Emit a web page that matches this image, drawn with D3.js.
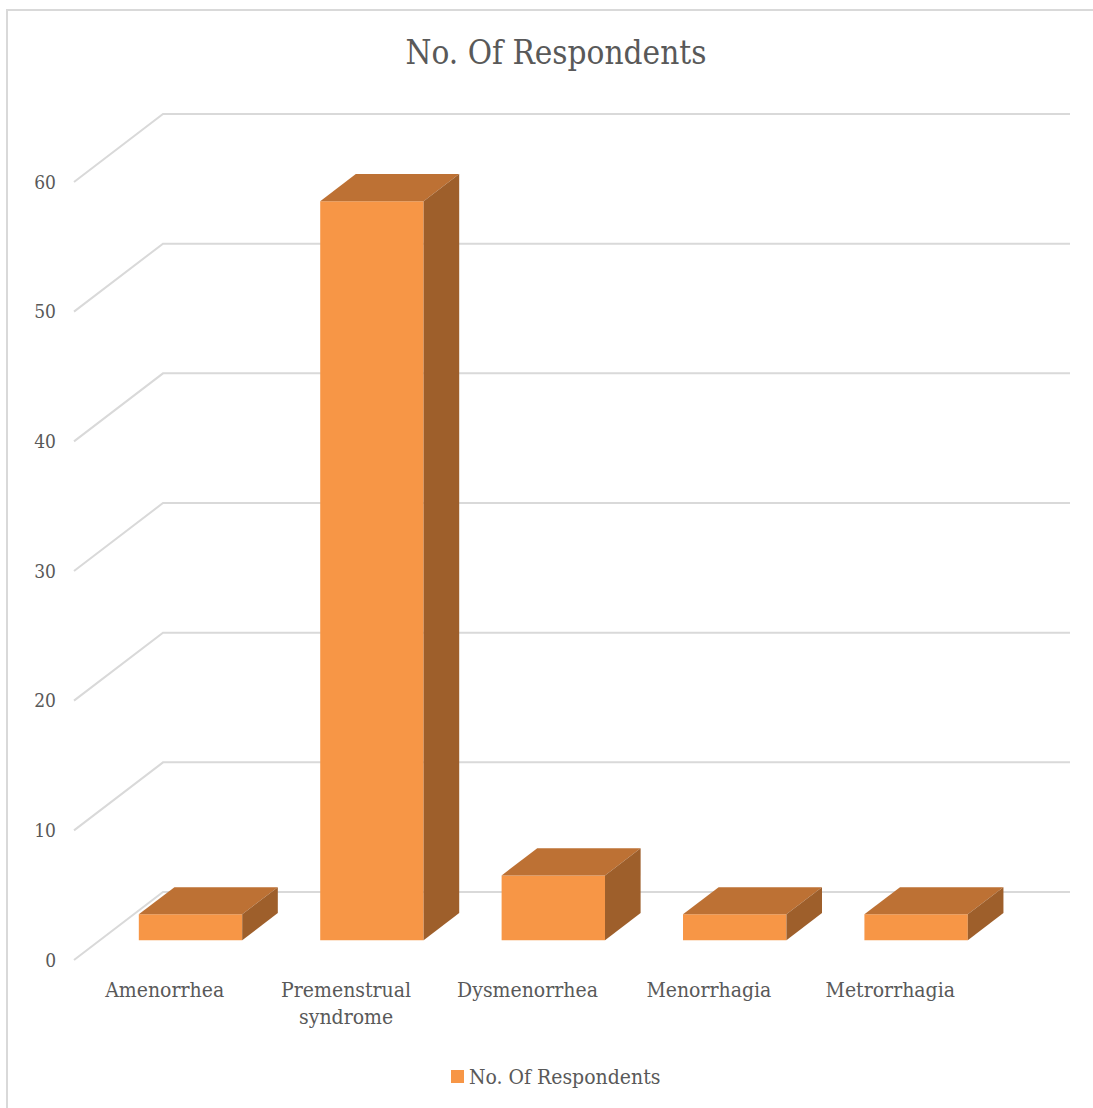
<!DOCTYPE html>
<html>
<head>
<meta charset="utf-8">
<script src="https://cdn.jsdelivr.net/npm/d3@7"></script>
<style>
  html, body { margin: 0; padding: 0; background: #fff; }
  svg { display: block; }
  text { font-family: "DejaVu Serif Condensed", "DejaVu Serif", serif; font-stretch: condensed; fill: #595959; }
</style>
</head>
<body>
<div id="chart"></div>
<script>
// Chart data
const categories = ["Amenorrhea", "Premenstrual syndrome", "Dysmenorrhea", "Menorrhagia", "Metrorrhagia"];
const categoryLines = [["Amenorrhea"], ["Premenstrual", "syndrome"], ["Dysmenorrhea"], ["Menorrhagia"], ["Metrorrhagia"]];
const respondents = [2, 57, 5, 2, 2];
const yTicks = [0, 10, 20, 30, 40, 50, 60];
const seriesName = "No. Of Respondents";
const chartTitle = "No. Of Respondents";

const width = 1093, height = 1108;
const svg = d3.select("#chart").append("svg")
  .attr("width", width).attr("height", height);

// Outer chart border (top and left edges visible)
svg.append("path")
  .attr("d", `M7,${height} L7,10 L${width},10`)
  .attr("fill", "none").attr("stroke", "#d9d9d9").attr("stroke-width", 2);

// Oblique 3D projection: front floor origin plus a depth vector
const originX = 74, originY = 960;
const depthX = 89, depthY = 68;
const plotW = 907;

const x = d3.scaleBand().domain(categories).range([0, plotW]).paddingInner(0).paddingOuter(0);
const y = d3.scaleLinear().domain([0, 60]).range([0, 778]);

function proj(px, v, d) {
  return [originX + px + d * depthX, originY - y(v) - d * depthY];
}

// Gridlines: side wall diagonal + back wall horizontal
const grid = svg.append("g");
yTicks.forEach(t => {
  const a = proj(0, t, 0), b = proj(0, t, 1), c = proj(plotW, t, 1);
  grid.append("path")
    .attr("d", `M${a[0]},${a[1]} L${b[0]},${b[1]} L${c[0]},${c[1]}`)
    .attr("fill", "none").attr("stroke", "#d9d9d9").attr("stroke-width", 2);
});

// Y-axis labels
svg.append("g").selectAll("text").data(yTicks).join("text")
  .attr("x", 56)
  .attr("y", d => proj(0, d, 0)[1])
  .attr("dy", "0.35em")
  .attr("text-anchor", "end")
  .attr("font-size", 19)
  .text(d => d);

// Bars as 3D boxes
const dFront = 0.29, dBack = 0.69;
const barFrac = 0.57;
const bars = svg.append("g");
categories.forEach((c, i) => {
  const v = respondents[i];
  const bw = x.bandwidth() * barFrac;
  const left = x(c) + (x.bandwidth() - bw) / 2;
  const right = left + bw;
  const fbl = proj(left, 0, dFront), fbr = proj(right, 0, dFront);
  const ftl = proj(left, v, dFront), ftr = proj(right, v, dFront);
  const btl = proj(left, v, dBack), btr = proj(right, v, dBack);
  const bbr = proj(right, 0, dBack);
  const poly = pts => pts.map(p => p.join(",")).join(" ");
  // front face
  bars.append("polygon").attr("points", poly([fbl, fbr, ftr, ftl])).attr("fill", "#f79646");
  // top face
  bars.append("polygon").attr("points", poly([ftl, ftr, btr, btl])).attr("fill", "#bd7134");
  // right side face
  bars.append("polygon").attr("points", poly([fbr, bbr, btr, ftr])).attr("fill", "#9e5f2b");
});

// Category labels
const catG = svg.append("g");
categories.forEach((c, i) => {
  const cx = proj(x(c) + x.bandwidth() / 2, 0, 0)[0];
  const t = catG.append("text")
    .attr("x", cx).attr("y", 997)
    .attr("text-anchor", "middle")
    .attr("font-size", 21);
  categoryLines[i].forEach((line, j) => {
    t.append("tspan").attr("x", cx).attr("dy", j === 0 ? 0 : 27).text(line);
  });
});

// Title
svg.append("text")
  .attr("x", 556).attr("y", 64)
  .attr("text-anchor", "middle")
  .attr("font-size", 33)
  .text(chartTitle);

// Legend
const legend = svg.append("g");
legend.append("rect").attr("x", 451).attr("y", 1070).attr("width", 13).attr("height", 13).attr("fill", "#f79646");
legend.append("text").attr("x", 469).attr("y", 1084).attr("font-size", 21).text(seriesName);
</script>
</body>
</html>
